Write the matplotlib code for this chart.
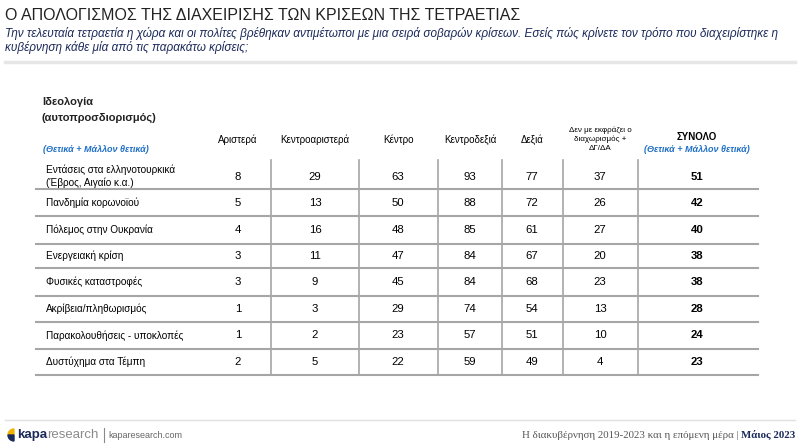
import matplotlib
matplotlib.use('Agg')
import matplotlib.pyplot as plt
from matplotlib.lines import Line2D
from matplotlib.patches import Wedge

# ---- data ----
title = 'Ο ΑΠΟΛΟΓΙΣΜΟΣ ΤΗΣ ΔΙΑΧΕΙΡΙΣΗΣ ΤΩΝ ΚΡΙΣΕΩΝ ΤΗΣ ΤΕΤΡΑΕΤΙΑΣ'
subtitle = ['Την τελευταία τετραετία η χώρα και οι πολίτες βρέθηκαν αντιμέτωποι με μια σειρά σοβαρών κρίσεων. '
            'Εσείς πώς κρίνετε τον τρόπο που διαχειρίστηκε η',
            'κυβέρνηση κάθε μία από τις παρακάτω κρίσεις;']

crises = ['Εντάσεις στα ελληνοτουρκικά\n(Έβρος, Αιγαίο κ.α.)', 'Πανδημία κορωνοϊού', 'Πόλεμος στην Ουκρανία',
          'Ενεργειακή κρίση', 'Φυσικές καταστροφές', 'Ακρίβεια/πληθωρισμός',
          'Παρακολουθήσεις - υποκλοπές', 'Δυστύχημα στα Τέμπη']
groups = ['Αριστερά', 'Κεντροαριστερά', 'Κέντρο', 'Κεντροδεξιά', 'Δεξιά',
          'Δεν με εκφράζει ο\nδιαχωρισμός +\nΔΓ/ΔΑ']
aristera = [8, 5, 4, 3, 3, 1, 1, 2]
kentroaristera = [29, 13, 16, 11, 9, 3, 2, 5]
kentro = [63, 50, 48, 47, 45, 29, 23, 22]
kentrodexia = [93, 88, 85, 84, 84, 74, 57, 59]
dexia = [77, 72, 61, 67, 68, 54, 51, 49]
dgda = [37, 26, 27, 20, 23, 13, 10, 4]
synolo = [51, 42, 40, 38, 38, 28, 24, 23]

# ---- layout (pixels) ----
W, H = 800, 448
col_x = [238, 315, 398, 470, 532, 600]
tot_x = 697
row_lines = [160, 189, 216, 244, 268, 296, 322, 349, 375]
vlines = [271, 359, 438, 502, 563, 638]
grid_col = '#a6a6a6'
blue = '#1f6fc5'
navy = '#1c2a5a'
arial = ['Liberation Sans', 'DejaVu Sans']
serif = ['Liberation Serif', 'DejaVu Serif']

fig = plt.figure(figsize=(W / 100, H / 100), dpi=100)
ax = fig.add_axes([0, 0, 1, 1])
ax.set_xlim(0, W)
ax.set_ylim(H, 0)
ax.axis('off')
r = fig.canvas.get_renderer()


def right_edge(t):
    bb = t.get_window_extent(renderer=r)
    return ax.transData.inverted().transform((bb.x1, bb.y0))[0]


# header
ax.text(5, 15, title, fontsize=11.5, family=arial, color='#222222', va='center')
ax.text(5, 33, subtitle[0], fontsize=8.5, family=arial, style='italic', color=navy, va='center')
ax.text(5, 48, subtitle[1], fontsize=8.5, family=arial, style='italic', color=navy, va='center')
ax.add_line(Line2D([5, 795], [62, 62], color='#e6e6e6', lw=2.5))

# table header
ax.text(42, 102, 'Ιδεολογία', fontsize=8, family=arial, weight='bold', color='#222222', va='center')
ax.text(42, 118, '(αυτοπροσδιορισμός)', fontsize=8, family=arial, weight='bold', color='#222222', va='center')
ax.text(43, 149, '(Θετικά + Μάλλον θετικά)', fontsize=6.5, family=arial, weight='bold', style='italic',
        color=blue, va='center')
for x, g in zip(col_x, groups):
    if '\n' in g:
        ax.text(x, 139, g, fontsize=5.8, family=arial, ha='center', va='center', linespacing=1.3)
    else:
        ax.text(x, 140, g, fontsize=7, family=arial, ha='center', va='center')
ax.text(tot_x, 137, 'ΣΥΝΟΛΟ', fontsize=7, family=arial, weight='bold', ha='center', va='center')
ax.text(tot_x, 150, '(Θετικά + Μάλλον θετικά)', fontsize=6.5, family=arial, weight='bold', style='italic',
        color=blue, ha='center', va='center')

# grid
for x in vlines:
    ax.add_line(Line2D([x, x], [row_lines[0], row_lines[-1]], color=grid_col, lw=1.2))
for y in row_lines[1:]:
    ax.add_line(Line2D([36, 758], [y, y], color=grid_col, lw=1.5))

# body
columns = [aristera, kentroaristera, kentro, kentrodexia, dexia, dgda]
for i, crisis in enumerate(crises):
    yc = (row_lines[i] + row_lines[i + 1]) / 2 + (0 if i else 2)
    ax.text(46, yc, crisis, fontsize=7.2, family=arial, va='center', linespacing=1.25)
    for x, col in zip(col_x, columns):
        ax.text(x, yc, str(col[i]), fontsize=8.2, family=arial, ha='center', va='center')
    ax.text(tot_x, yc, str(synolo[i]), fontsize=8.2, family=arial, weight='bold', ha='center', va='center')

# footer
ax.add_line(Line2D([5, 795], [420, 420], color='#e0e0e0', lw=1))
ax.add_patch(Wedge((14, 435), 6, 180, 270, color='#f0b400'))
ax.add_patch(Wedge((14, 435), 6, 90, 180, color=navy))
kapa = ax.text(17, 435, 'kapa', fontsize=9.5, family=arial, weight='bold', color=navy, va='center')
res = ax.text(right_edge(kapa), 435, 'research', fontsize=9.5, family=arial, color='#8a8a8a', va='center')
bar_x = right_edge(res) + 5
ax.add_line(Line2D([bar_x, bar_x], [428, 442], color='#8a8a8a', lw=0.8))
ax.text(bar_x + 5, 435, 'kaparesearch.com', fontsize=6.5, family=arial, color='#666666', va='center')

month = ax.text(795, 435, 'Μάιος 2023', fontsize=7.8, family=serif, weight='bold', color=navy,
                ha='right', va='center')
bb = month.get_window_extent(renderer=r)
x_left = ax.transData.inverted().transform((bb.x0, bb.y0))[0]
ax.text(x_left - 2, 435, 'Η διακυβέρνηση 2019-2023 και η επόμενη μέρα |', fontsize=7.8, family=serif,
        color='#555555', ha='right', va='center')

fig.savefig('out.png', dpi=100)
